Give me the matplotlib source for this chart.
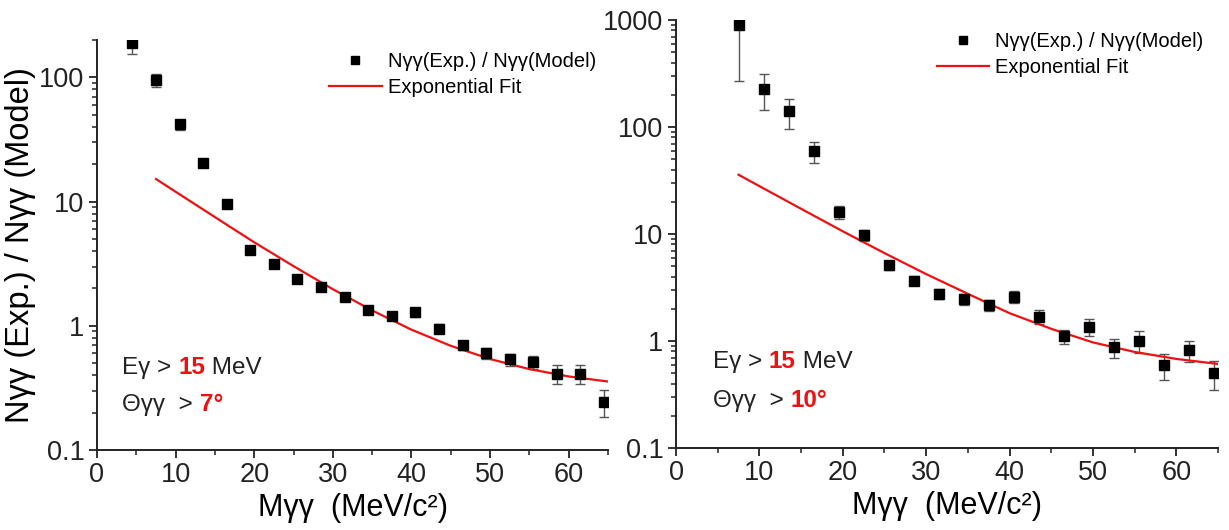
import numpy as np
import matplotlib
matplotlib.use('Agg')
import matplotlib.pyplot as plt
import matplotlib.ticker as mticker

plt.rcParams['font.family'] = ['Liberation Sans', 'DejaVu Sans']

# data
M_GG = [4.5, 7.5, 10.5, 13.5, 16.5, 19.5, 22.5, 25.5, 28.5, 31.5, 34.5,
        37.5, 40.5, 43.5, 46.5, 49.5, 52.5, 55.5, 58.5, 61.5, 64.5]

# left panel: theta > 7 deg
RATIO_7 = [188, 95, 41.8, 20.4, 9.5, 4.07, 3.13, 2.37, 2.04, 1.70, 1.35,
           1.20, 1.28, 0.95, 0.70, 0.60, 0.536, 0.507, 0.412, 0.412, 0.244]
ERR_7 = [35, 12, 4.0, 1.5, 0.6, 0.25, 0.2, 0.15, 0.12, 0.1, 0.09,
         0.09, 0.1, 0.08, 0.06, 0.06, 0.06, 0.06, 0.07, 0.07, 0.06]
FIT_X_7 = [7.5, 10, 15, 20, 25, 30, 35, 40, 45, 50, 55, 60, 65]
FIT_Y_7 = [15.2, 12.0, 7.5, 4.7, 3.02, 1.97, 1.33, 0.93, 0.69, 0.54,
           0.448, 0.391, 0.356]

# right panel: theta > 10 deg (first point starts at 7.5)
M_GG_10 = M_GG[1:]
RATIO_10 = [897, 227, 140, 59.4, 15.9, 9.8, 5.1, 3.66, 2.76, 2.45, 2.17,
            2.60, 1.69, 1.11, 1.36, 0.87, 1.0, 0.594, 0.82, 0.50]
ERR_10 = [630, 83, 44, 13, 2.2, 1.2, 0.5, 0.35, 0.3, 0.3, 0.25,
          0.35, 0.25, 0.17, 0.24, 0.17, 0.23, 0.16, 0.18, 0.15]
FIT_X_10 = [7.5, 10, 15, 20, 25, 30, 35, 40, 45, 50, 55, 60, 65]
FIT_Y_10 = [35.8, 28.0, 17.2, 10.6, 6.63, 4.22, 2.76, 1.82, 1.30, 0.97,
            0.79, 0.68, 0.61]

LEG_DATA = 'N\u03b3\u03b3(Exp.) / N\u03b3\u03b3(Model)'
LEG_FIT = 'Exponential Fit'

fig = plt.figure(figsize=(12.29, 5.30), dpi=100)
AX_L = fig.add_axes([97 / 1229, 80 / 530, 511 / 1229, 410 / 530])
AX_R = fig.add_axes([676 / 1229, 82 / 530, 542 / 1229, 428 / 530])


def style_axes(axis, ytop):
    axis.set_yscale('log')
    axis.set_xlim(0, 65)
    axis.set_ylim(0.1, ytop)
    for side in ['top', 'right']:
        axis.spines[side].set_visible(False)
    for side in ['left', 'bottom']:
        axis.spines[side].set_linewidth(1.4)
        axis.spines[side].set_color('#222222')
    axis.xaxis.set_major_locator(mticker.MultipleLocator(10))
    axis.xaxis.set_minor_locator(mticker.MultipleLocator(5))
    axis.yaxis.set_major_locator(mticker.LogLocator(base=10, numticks=10))
    axis.yaxis.set_minor_locator(mticker.LogLocator(base=10, subs=np.arange(2, 10), numticks=10))
    axis.yaxis.set_major_formatter(mticker.FormatStrFormatter('%g'))
    axis.yaxis.set_minor_formatter(mticker.NullFormatter())
    axis.tick_params(which='major', direction='out', length=6, width=1.3,
                     labelsize=19.5, colors='#222222', pad=3)
    axis.tick_params(which='minor', direction='out', length=3.5, width=1.1,
                     colors='#222222')
    axis.set_xlabel('M\u03b3\u03b3  (MeV/c\u00b2)', fontsize=22, labelpad=3)


def chain_text(axis, x, y, pieces, size):
    # draw text pieces one after another on the same baseline
    fig.canvas.draw()
    rend = fig.canvas.get_renderer()
    xpix, ypix = axis.transAxes.transform((x, y))
    for txt, col, weight in pieces:
        item = fig.text(xpix / fig.dpi / fig.get_figwidth(),
                        ypix / fig.dpi / fig.get_figheight(),
                        txt, color=col, fontweight=weight, fontsize=size,
                        va='baseline', ha='left')
        xpix = item.get_window_extent(rend).x1


for axis, xs, ys, es, fx, fy, ytop, legx in [
        (AX_L, M_GG, RATIO_7, ERR_7, FIT_X_7, FIT_Y_7, 200, 1.0),
        (AX_R, M_GG_10, RATIO_10, ERR_10, FIT_X_10, FIT_Y_10, 1000, 0.995)]:
    style_axes(axis, ytop)
    axis.errorbar(xs, ys, yerr=es, fmt='none', ecolor='#555555',
                  elinewidth=1.0, capsize=3.5, capthick=1.0, zorder=2)
    axis.plot(xs, ys, 's', color='black', markersize=7.5, zorder=3,
              label=LEG_DATA)
    axis.plot(fx, fy, '-', color='#ee1111', linewidth=1.6, zorder=2,
              label=LEG_FIT)
    axis.legend(loc='upper right', bbox_to_anchor=(legx, 1.0), frameon=False,
                fontsize=14.5, handlelength=2.6, handletextpad=0.3,
                labelspacing=0.35, borderaxespad=0.2, markerscale=0.8)

AX_L.set_ylabel('N\u03b3\u03b3 (Exp.) / N\u03b3\u03b3 (Model)', fontsize=23.5,
                labelpad=2)

chain_text(AX_L, 0.049, 0.185, [('E\u03b3 > ', '#222222', 'normal'),
                                ('15', '#ee1111', 'bold'),
                                (' MeV', '#222222', 'normal')], 17.5)
chain_text(AX_L, 0.049, 0.095, [('\u0398\u03b3\u03b3  > ', '#222222', 'normal'),
                                ('7\u00b0', '#ee1111', 'bold')], 17.5)
chain_text(AX_R, 0.068, 0.187, [('E\u03b3 > ', '#222222', 'normal'),
                                ('15', '#ee1111', 'bold'),
                                (' MeV', '#222222', 'normal')], 17.5)
chain_text(AX_R, 0.068, 0.096, [('\u0398\u03b3\u03b3  > ', '#222222', 'normal'),
                                ('10\u00b0', '#ee1111', 'bold')], 17.5)

fig.savefig('out.png', dpi=100)
